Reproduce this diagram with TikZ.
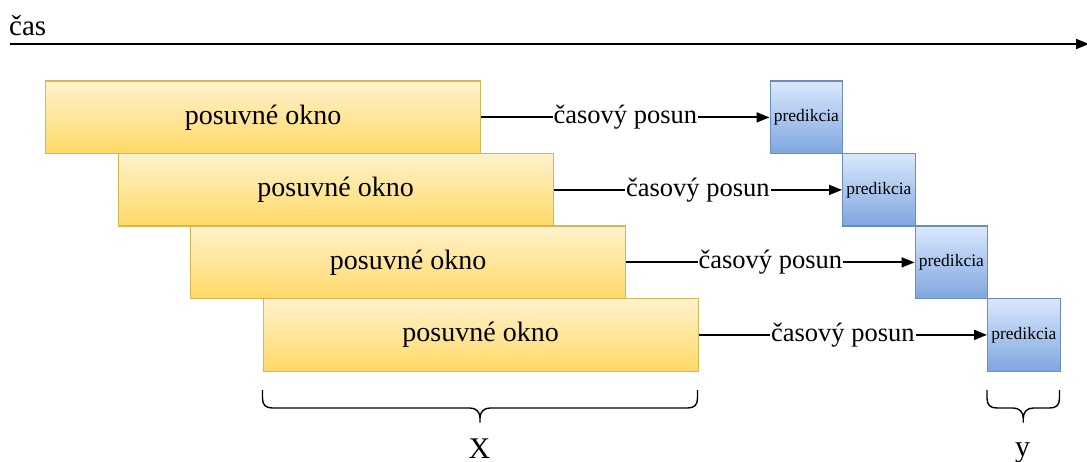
\documentclass[tikz,border=0pt]{standalone}
\usepackage{fontspec}
\setmainfont{Liberation Serif}
\usetikzlibrary{arrows.meta,calc}
\definecolor{winTop}{HTML}{FFF2CC}
\definecolor{winBot}{HTML}{FFD966}
\definecolor{winLine}{HTML}{D6B656}
\definecolor{predTop}{HTML}{DAE8FC}
\definecolor{predBot}{HTML}{7EA6E0}
\definecolor{predLine}{HTML}{6C8EBF}
\tikzset{
  window/.style={draw=winLine, line width=1.3pt, top color=winTop, bottom color=winBot,
    minimum width=435pt, minimum height=72.5pt, inner sep=0pt, anchor=north west,
    font=\fontsize{28}{30}\selectfont},
  predbox/.style={draw=predLine, line width=1.3pt, top color=predTop, bottom color=predBot,
    minimum width=72.5pt, minimum height=72.5pt, inner sep=0pt, anchor=north west,
    font=\fontsize{17.5}{19}\selectfont},
  shiftarrow/.style={line width=1.8pt, -{Triangle[length=13pt,width=10pt]}},
  shiftlabel/.style={fill=white, inner sep=1pt, font=\fontsize{26.5}{28}\selectfont},
  bracket/.style={line width=1.4pt},
  bracelabel/.style={anchor=base, inner sep=0pt, font=\fontsize{30}{32}\selectfont},
}
% curly brace opening upwards: \curlybrace{left}{right}{middle x}
\newcommand{\curlybrace}[3]{%
  \draw[bracket] (#1) -- ++(0,8) .. controls +(0,7) and +(-7,0) .. ++(10,10)
    -- ($(#3,408)+(-10,0)$) .. controls +(6,0) and +(0,-6) .. (#3,418) -- (#3,422.5);
  \draw[bracket] (#2) -- ++(0,8) .. controls +(0,7) and +(7,0) .. ++(-10,10)
    -- ($(#3,408)+(10,0)$) .. controls +(-6,0) and +(0,-6) .. (#3,418);
}
\begin{document}
\begin{tikzpicture}[x=1pt, y=-1pt]
\useasboundingbox (0,0) rectangle (1087,462);

% time axis
\coordinate (t0) at (10,44);
\coordinate (t1) at (1089,44);
\draw[line width=2pt, -{Triangle[length=13pt,width=10pt]}] (t0) -- (t1);
\node[anchor=base west, inner sep=0pt, font=\fontsize{29}{31}\selectfont] (cas) at (9,36) {čas};

% sliding windows
\node[window] (w1) at (45,80.5) {posuvné okno};
\node[window] (w2) at (117.5,153) {posuvné okno};
\node[window] (w3) at (190,225.5) {posuvné okno};
\node[window] (w4) at (262.5,298) {posuvné okno};

% predictions
\node[predbox] (p1) at (769.5,80.5) {predikcia};
\node[predbox] (p2) at (842,153) {predikcia};
\node[predbox] (p3) at (914.5,225.5) {predikcia};
\node[predbox] (p4) at (987,298) {predikcia};

% time shifts
\foreach \i in {1,...,4}{
  \draw[shiftarrow] (w\i.east) -- node[shiftlabel] (s\i) {časový posun} (p\i.west);
}

% braces with labels
\coordinate (xa) at (262.5,390);
\coordinate (xb) at (697.5,390);
\coordinate (ya) at (987,390);
\coordinate (yb) at (1059.5,390);
\curlybrace{xa}{xb}{480}
\curlybrace{ya}{yb}{1023.25}
\node[bracelabel] (lx) at (479.5,458.5) {X};
\node[bracelabel] (ly) at (1022.5,456.5) {y};
\end{tikzpicture}
\end{document}
